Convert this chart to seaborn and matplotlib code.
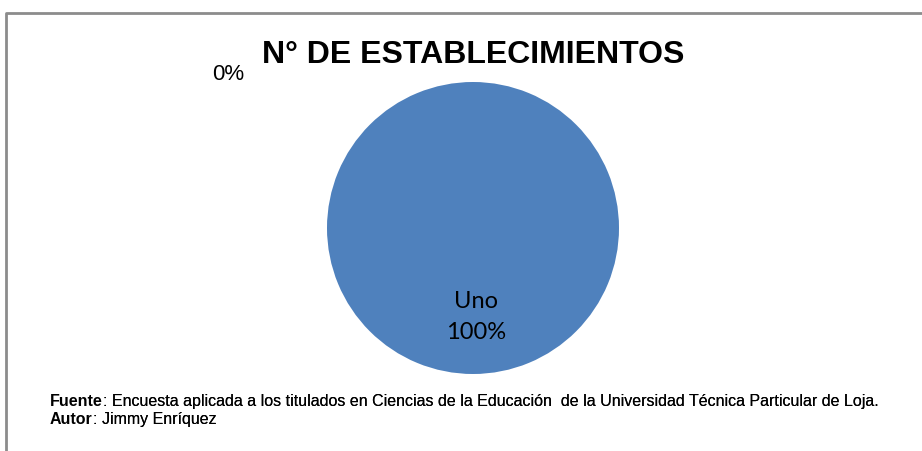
import matplotlib
matplotlib.use("Agg")
import matplotlib.pyplot as plt
from matplotlib.lines import Line2D
import seaborn as sns

# Data
categories = ['Uno', 'Dos']
values = [100, 0]
pie_color = ['#4F81BD', '#C0504D']

title = 'N° DE ESTABLECIMIENTOS'
fuente = 'Encuesta aplicada a los titulados en Ciencias de la Educación  de la Universidad Técnica Particular de Loja.'
autor = 'Jimmy Enríquez'

sns.set_style("white")
plt.rcParams['font.family'] = ['Liberation Sans', 'DejaVu Sans']
plt.rcParams['text.color'] = 'black'

W, H = 922, 451
fig = plt.figure(figsize=(W / 100, H / 100), dpi=100)

# chart frame (left + top edges visible)
fig.add_artist(Line2D([5.5 / W, 5.5 / W, 1.0], [0.0, 1 - 12.5 / H, 1 - 12.5 / H],
                      transform=fig.transFigure, color='#8c8c8c', linewidth=2))

# pie axes
cx, cy, r = 473, 228, 146
ax = fig.add_axes([(cx - r) / W, (H - cy - r) / H, 2 * r / W, 2 * r / H])

total = sum(values)
wedges, texts = ax.pie(values, colors=pie_color, startangle=90, counterclock=False,
                       labeldistance=0.6,
                       labels=[f'{c}\n{round(v / total * 100)}%' if v > 0 else f'{round(v / total * 100)}%'
                               for c, v in zip(categories, values)],
                       wedgeprops={'linewidth': 0})
ax.set_xlim(-1, 1)
ax.set_ylim(-1, 1)
ax.set_aspect('equal')

for t, v in zip(texts, values):
    t.set_color('black')
    t.set_ha('center')
    t.set_va('center')
    t.set_fontsize(16)
    if v > 0:
        t.set_fontfamily(['Lato', 'DejaVu Sans'])
        t.set_fontsize(17)
        t.set_linespacing(1.6)
        t.set_position((0.02, -0.61))
    else:
        # zero slice label pushed out to the upper left like the original
        t.set_position((-1.68, 1.05))

fig.text(cx / W, 1 - 55 / H, title, ha='center', va='center',
         fontsize=23, fontweight='bold')

# footer
fs = 11.5
t1 = fig.text(50 / W, 1 - 409 / H, 'Fuente', fontsize=fs, fontweight='bold', va='bottom')
fig.add_artist(plt.annotate(': ' + fuente, xy=(1, 0), xycoords=t1, fontsize=fs,
                            va='bottom', ha='left', annotation_clip=False))
t2 = fig.text(50 / W, 1 - 427 / H, 'Autor', fontsize=fs, fontweight='bold', va='bottom')
fig.add_artist(plt.annotate(': ' + autor, xy=(1, 0), xycoords=t2, fontsize=fs,
                            va='bottom', ha='left', annotation_clip=False))

fig.savefig('out.png', dpi=100, facecolor='white')
